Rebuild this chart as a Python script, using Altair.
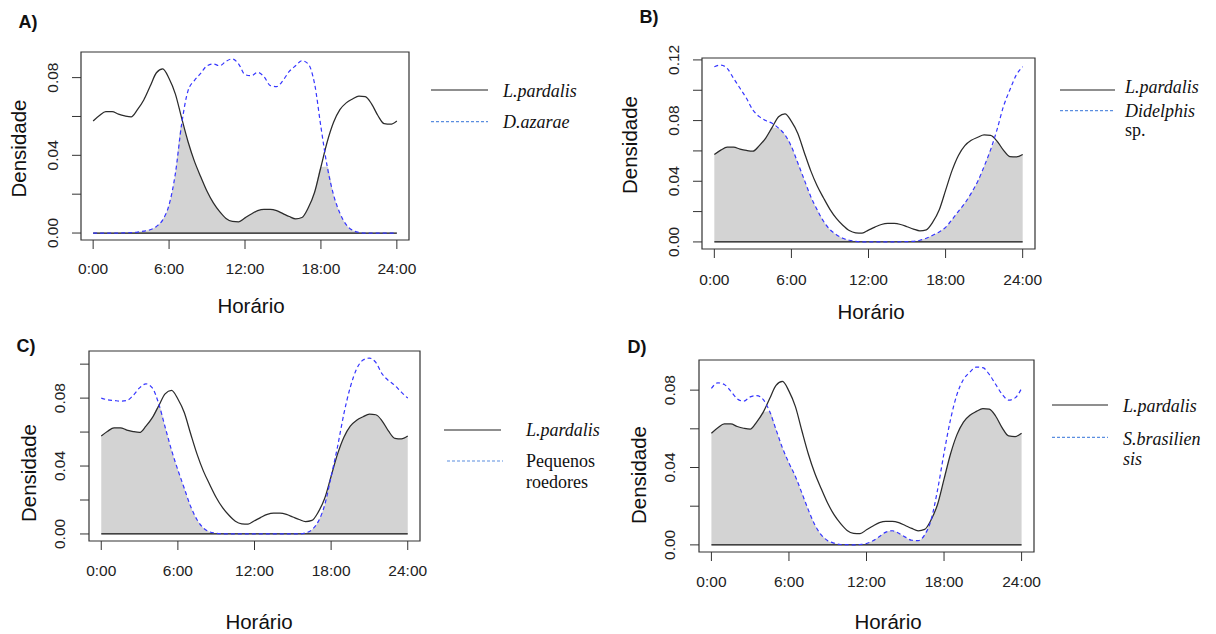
import altair as alt
import pandas as pd

# ---------------- data ----------------
HOURS = [0, 0.5, 1, 1.5, 2, 2.5, 3, 3.5, 4, 4.5, 5, 5.5, 6, 6.5, 7, 7.5, 8, 8.5,
         9, 9.5, 10, 10.5, 11, 11.5, 12, 12.5, 13, 13.5, 14, 14.5, 15, 15.5, 16,
         16.5, 17, 17.5, 18, 18.5, 19, 19.5, 20, 20.5, 21, 21.5, 22, 22.5, 23,
         23.5, 24]

L_PARDALIS = [0.0577, 0.0605, 0.0625, 0.0625, 0.0612, 0.0603, 0.0598, 0.0635,
              0.0685, 0.0755, 0.0825, 0.0845, 0.0795, 0.0715, 0.0590, 0.0470,
              0.0370, 0.0290, 0.0215, 0.0155, 0.0110, 0.0075, 0.0060, 0.0058,
              0.0078, 0.0098, 0.0115, 0.0122, 0.0122, 0.0115, 0.0100, 0.0085,
              0.0073, 0.0080, 0.0130, 0.0210, 0.0340, 0.0470, 0.0570, 0.0635,
              0.0670, 0.0690, 0.0705, 0.0702, 0.0665, 0.0605, 0.0563, 0.0560,
              0.0577]

D_AZARAE = [0, 0, 0, 0, 0, 0.0001, 0.0002, 0.0005, 0.0010, 0.0017, 0.0034,
            0.0068, 0.0145, 0.0307, 0.0563, 0.0733, 0.0785, 0.0822, 0.0861,
            0.0870, 0.0861, 0.0884, 0.0896, 0.0870, 0.0815, 0.0810, 0.0827,
            0.0805, 0.0759, 0.0754, 0.0785, 0.0832, 0.0861, 0.0887, 0.0870,
            0.0768, 0.0546, 0.0341, 0.0196, 0.0102, 0.0043, 0.0014, 0.0003,
            0, 0, 0, 0, 0, 0]

DIDELPHIS = [0.1155, 0.1166, 0.1144, 0.1078, 0.1013, 0.0947, 0.0870, 0.0826,
             0.0800, 0.0782, 0.0750, 0.0706, 0.0629, 0.0520, 0.0410, 0.0300,
             0.0213, 0.0136, 0.0081, 0.0048, 0.0024, 0.0011, 0.0004, 0.0001,
             0, 0, 0, 0, 0, 0.0001, 0.0002, 0.0004, 0.0011, 0.0024, 0.0044,
             0.0066, 0.0096, 0.0147, 0.0202, 0.0256, 0.0322, 0.0399, 0.0498,
             0.0607, 0.0739, 0.0892, 0.1002, 0.1100, 0.1155]

ROEDORES = [0.0800, 0.0790, 0.0786, 0.0782, 0.0786, 0.0816, 0.0860, 0.0884,
            0.0860, 0.0767, 0.0630, 0.0494, 0.0377, 0.0269, 0.0162, 0.0084,
            0.0035, 0.0012, 0.0004, 0.0001, 0, 0, 0, 0, 0, 0, 0, 0, 0, 0, 0,
            0, 0.0006, 0.0025, 0.0074, 0.0172, 0.0338, 0.0513, 0.0708, 0.0864,
            0.0972, 0.1024, 0.1036, 0.1010, 0.0942, 0.0903, 0.0874, 0.0835,
            0.0800]

S_BRASILIENSIS = [0.0809, 0.0838, 0.0829, 0.0795, 0.0755, 0.0743, 0.0765,
                  0.0772, 0.0752, 0.0691, 0.0596, 0.0501, 0.0423, 0.0354,
                  0.0268, 0.0181, 0.0104, 0.0052, 0.0022, 0.0009, 0.0002,
                  0.0001, 0, 0.0002, 0.0007, 0.0021, 0.0043, 0.0066, 0.0073,
                  0.0060, 0.0040, 0.0024, 0.0022, 0.0052, 0.0130, 0.0285,
                  0.0475, 0.0648, 0.0778, 0.0855, 0.0893, 0.0919, 0.0916,
                  0.0881, 0.0829, 0.0778, 0.0748, 0.0760, 0.0809]

X_TICKS = [0, 6, 12, 18, 24]
X_LABELS = ["0:00", "6:00", "12:00", "18:00", "24:00"]

Y_TICKS_A = [0.0, 0.02, 0.04, 0.06, 0.08]
Y_TICKS_B = [0.0, 0.02, 0.04, 0.06, 0.08, 0.1, 0.12]
Y_TICKS_C = [0.0, 0.02, 0.04, 0.06, 0.08, 0.1]
Y_TICKS_D = [0.0, 0.02, 0.04, 0.06, 0.08]
Y_LABEL_VALUES = [0.0, 0.04, 0.08, 0.12]
Y_LABEL_TEXTS = ["0.00", "0.04", "0.08", "0.12"]

PANEL_LABELS = ["A)", "B)", "C)", "D)"]
X_TITLE = "Horário"
Y_TITLE = "Densidade"

# ---------------- layout / style ----------------
W, H = 1200, 626
AXIS_FONT = "Liberation Sans"
LEG_FONT = "Liberation Serif"
LINE_DARK = "#2b2b2b"
BLUE = "#3535ff"
TICK = 9
TICK_FS = 15.5
TITLE_FS = 20.5
LEG_FS = 18

one = pd.DataFrame({"k": [0]})


def panel(other, frame, y_ticks, xtitle, ytitle, xlab_off, ylab_off):
    left, right, top, bottom = frame
    df = pd.DataFrame({"h": HOURS, "lp": L_PARDALIS, "ot": other})
    ymax = max(max(L_PARDALIS), max(other))
    ydom = [-0.04 * ymax, 1.04 * ymax]
    xdom = [-0.96, 24.96]
    xs = alt.Scale(domain=xdom, range=[left, right], nice=False, zero=False)
    ys = alt.Scale(domain=ydom, range=[bottom, top], nice=False, zero=False)

    base = alt.Chart(df)
    area = base.transform_calculate(ov="min(datum.lp, datum.ot)").mark_area(
        color="#d3d3d3", interpolate="monotone").encode(
        x=alt.X("h:Q", scale=xs, axis=None),
        y=alt.Y("ov:Q", scale=ys, axis=None),
        y2=alt.Y2(datum=0))
    baseline = alt.Chart(one).mark_rule(color="#111", strokeWidth=1.3).encode(
        x=alt.X(datum=0, type="quantitative", scale=xs, axis=None),
        x2=alt.X2(datum=24),
        y=alt.Y(datum=0, type="quantitative", scale=ys, axis=None))
    lp = base.mark_line(color=LINE_DARK, strokeWidth=1.25,
                        interpolate="monotone").encode(
        x=alt.X("h:Q", scale=xs, axis=None),
        y=alt.Y("lp:Q", scale=ys, axis=None))
    ot = base.mark_line(color=BLUE, strokeWidth=1.2, strokeDash=[4, 3],
                        interpolate="monotone").encode(
        x=alt.X("h:Q", scale=xs, axis=None),
        y=alt.Y("ot:Q", scale=ys, axis=None))
    box = alt.Chart(one).mark_rect(fill="white", fillOpacity=0,
                                   stroke="#333", strokeWidth=1.2).encode(
        x=alt.X(datum=xdom[0], type="quantitative", scale=xs, axis=None),
        x2=alt.X2(datum=xdom[1]),
        y=alt.Y(datum=ydom[0], type="quantitative", scale=ys, axis=None),
        y2=alt.Y2(datum=ydom[1]))

    # axes drawn through the panel's scales
    xt = pd.DataFrame({"v": X_TICKS, "lab": X_LABELS})
    xticks = alt.Chart(xt).mark_rule(color="#333", strokeWidth=1).encode(
        x=alt.X("v:Q", scale=xs, axis=None),
        y=alt.value(bottom), y2=alt.value(bottom + TICK))
    xlabels = alt.Chart(xt).mark_text(
        font=AXIS_FONT, fontSize=TICK_FS, color="#222", align="center",
        baseline="middle").encode(
        x=alt.X("v:Q", scale=xs, axis=None),
        y=alt.value(bottom + xlab_off), text="lab:N")

    yt = pd.DataFrame({"v": y_ticks})
    keep = [i for i, v in enumerate(Y_LABEL_VALUES) if v <= max(y_ticks)]
    yl = pd.DataFrame({"v": [Y_LABEL_VALUES[i] for i in keep],
                       "lab": [Y_LABEL_TEXTS[i] for i in keep]})
    yticks = alt.Chart(yt).mark_rule(color="#333", strokeWidth=1).encode(
        y=alt.Y("v:Q", scale=ys, axis=None),
        x=alt.value(left - TICK), x2=alt.value(left))
    ylabels = alt.Chart(yl).mark_text(
        font=AXIS_FONT, fontSize=TICK_FS, color="#222", align="center",
        baseline="middle", angle=270).encode(
        y=alt.Y("v:Q", scale=ys, axis=None),
        x=alt.value(left - ylab_off), text="lab:N")

    xt_title = alt.Chart(one).mark_text(
        text=X_TITLE, font=AXIS_FONT, fontSize=TITLE_FS, color="#111",
        align="center", baseline="middle").encode(
        x=alt.value(xtitle[0]), y=alt.value(xtitle[1]))
    yt_title = alt.Chart(one).mark_text(
        text=Y_TITLE, font=AXIS_FONT, fontSize=TITLE_FS, color="#111",
        align="center", baseline="middle", angle=270).encode(
        x=alt.value(ytitle[0]), y=alt.value(ytitle[1]))

    return alt.layer(area, baseline, lp, ot, box, xticks, xlabels, yticks,
                     ylabels, xt_title, yt_title)


# frames in view coordinates: left, right, top, bottom
pA = panel(D_AZARAE, (73, 401, 44, 232), Y_TICKS_A, (243, 299), (11.5, 140.5), 29, 28.5)
pB = panel(DIDELPHIS, (694, 1027, 50, 241), Y_TICKS_B, (863, 304.5), (622.5, 137), 31, 28.5)
pC = panel(ROEDORES, (81, 412, 343, 533), Y_TICKS_C, (251, 614.5), (21.5, 465), 29.5, 29)
pD = panel(S_BRASILIENSIS, (691, 1026, 352, 544), Y_TICKS_D, (880, 614.5), (631.5, 467), 30, 29)


def txt(s, x, y, italic=True, size=LEG_FS, font=LEG_FONT, weight="normal",
        align="left", baseline="alphabetic"):
    return alt.Chart(one).mark_text(
        text=s, font=font, fontSize=size,
        fontStyle="italic" if italic else "normal", fontWeight=weight,
        align=align, baseline=baseline, color="#111").encode(
        x=alt.value(x), y=alt.value(y))


def seg(x1, x2, y, dashed):
    if dashed:
        m = alt.Chart(one).mark_rule(color="#5b8ee0", strokeWidth=1.2,
                                     strokeDash=[3, 2])
    else:
        m = alt.Chart(one).mark_rule(color="#6a6a6a", strokeWidth=1.6)
    return m.encode(x=alt.value(x1), x2=alt.value(x2), y=alt.value(y))


deco = [
    # panel labels
    txt(PANEL_LABELS[0], 20, 14.5, italic=False, size=18, font=AXIS_FONT,
        weight="bold", align="center", baseline="middle"),
    txt(PANEL_LABELS[1], 641, 9.5, italic=False, size=18, font=AXIS_FONT,
        weight="bold", align="center", baseline="middle"),
    txt(PANEL_LABELS[2], 18, 339, italic=False, size=18, font=AXIS_FONT,
        weight="bold", align="center", baseline="middle"),
    txt(PANEL_LABELS[3], 629, 339.5, italic=False, size=18, font=AXIS_FONT,
        weight="bold", align="center", baseline="middle"),
    # legend A
    seg(423, 480, 82, False), txt("L.pardalis", 495, 88.7),
    seg(423, 480, 113.7, True), txt("D.azarae", 495, 120.3),
    # legend B
    seg(1052, 1107, 82, False), txt("L.pardalis", 1117, 84.5),
    seg(1052, 1107, 102.7, True), txt("Didelphis", 1117, 109.3),
    txt("sp.", 1117, 128, italic=False),
    # legend C
    seg(436, 493, 422, False), txt("L.pardalis", 518, 428),
    seg(439, 495, 453, True), txt("Pequenos", 518, 459.3, italic=False),
    txt("roedores", 518, 480.3, italic=False),
    # legend D
    seg(1044, 1100, 397, False), txt("L.pardalis", 1115, 403.7),
    seg(1044, 1100, 429.3, True), txt("S.brasilien", 1115, 437),
    txt("sis", 1115, 457),
]

chart = alt.layer(pA, pB, pC, pD, *deco).resolve_scale(
    x="independent", y="independent").resolve_axis(
    x="independent", y="independent").properties(
    width=W, height=H, padding=0,
    autosize=alt.AutoSizeParams(type="none")).configure_view(stroke=None)

chart.save("out.html", embed_options={"renderer": "svg", "actions": False})
